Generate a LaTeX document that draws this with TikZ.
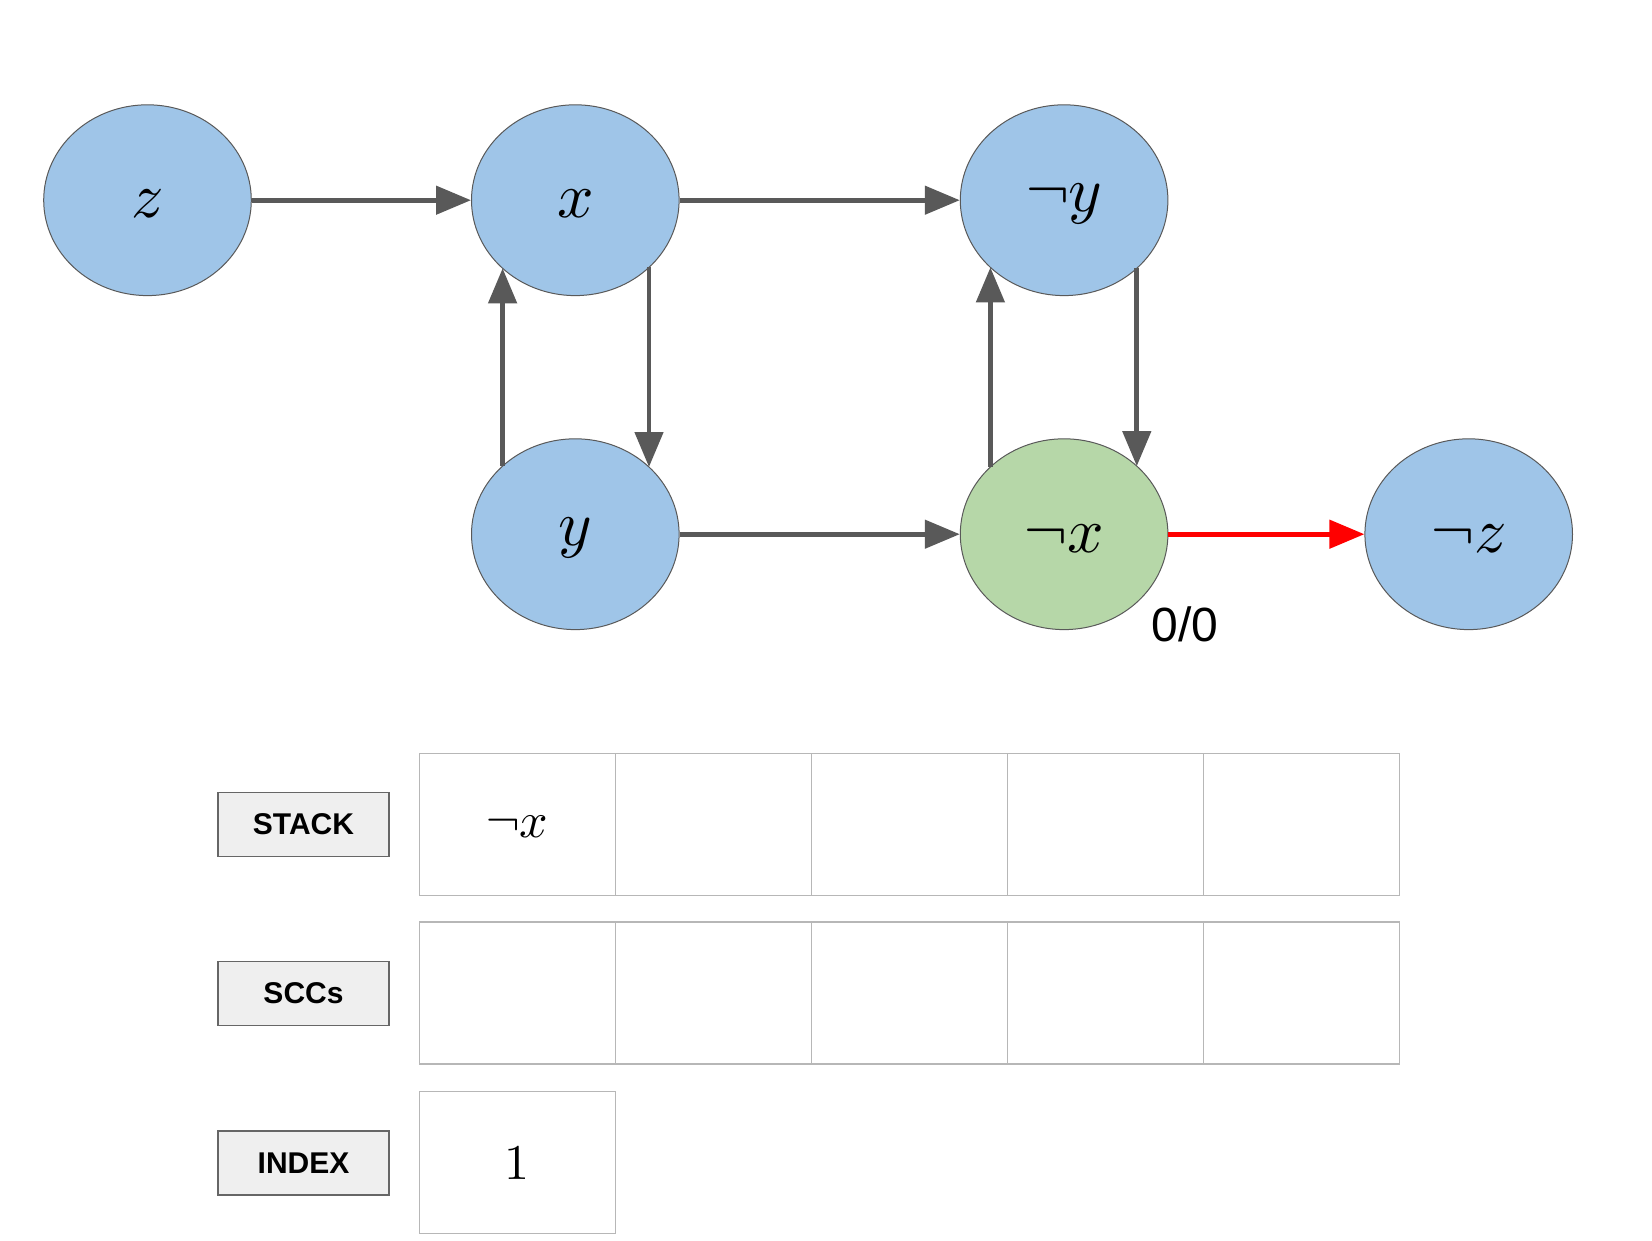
\documentclass[tikz,border=0pt]{standalone}
\usepackage{fontspec}
\usepackage{unicode-math}
\setmathfont{Latin Modern Math}
\newfontfamily\arialfont{Liberation Sans}
\usetikzlibrary{arrows.meta,shapes.geometric,calc}
\definecolor{nodeblue}{HTML}{9FC5E8}
\definecolor{nodegreen}{HTML}{B6D7A8}
\definecolor{edgegray}{HTML}{595959}
\definecolor{cellgray}{HTML}{B7B7B7}
\definecolor{tagfill}{HTML}{EFEFEF}
\definecolor{tagline}{HTML}{666666}
\definecolor{hotred}{HTML}{FF0000}
\tikzset{
  vertex/.style={ellipse, draw=edgegray, line width=1pt, fill=nodeblue,
    minimum width=207.6pt, minimum height=190.8pt, inner sep=0pt,
    font=\fontsize{64}{68}\selectfont},
  current/.style={vertex, fill=nodegreen},
  vlabel/.style={font=\fontsize{64}{68}\selectfont, inner sep=0pt, yshift=-4pt},
  edge/.style={draw=edgegray, line width=4.7pt,
    -{Triangle[length=35pt,width=28pt]}},
  hotedge/.style={edge, draw=hotred, -{Triangle[length=35pt,width=28pt,fill=hotred]}},
  cell/.style={rectangle, draw=cellgray, line width=1.5pt,
    minimum width=196pt, minimum height=142.3pt, inner sep=0pt},
  tag/.style={rectangle, draw=tagline, fill=tagfill, line width=1.5pt,
    minimum width=170.7pt, minimum height=64.3pt, inner sep=0pt,
    font=\arialfont\bfseries\fontsize{30}{32}\selectfont},
}
\begin{document}
\begin{tikzpicture}[x=1pt,y=-1pt]
  \useasboundingbox[fill=white] (0,0) rectangle (1652,1240);

  % implication graph
  \node[vertex]  (z)  at (147.5,200.2)  {};
  \node[vertex]  (x)  at (575.3,200.2)  {};
  \node[vertex]  (ny) at (1064.1,200.2) {};
  \node[vertex]  (y)  at (575.3,534.2)  {};
  \node[current] (nx) at (1064.1,534.2) {};
  \node[vertex]  (nz) at (1468.7,534.2) {};

  \node[vlabel] at (z)  {$z$};
  \node[vlabel] at (x)  {$x$};
  \node[vlabel] at (ny) {$\neg y$};
  \node[vlabel] at (y)  {$y$};
  \node[vlabel] at (nx) {$\neg x$};
  \node[vlabel] at (nz) {$\neg z$};

  \draw[edge] (z) -- (x);
  \draw[edge] (x) -- (ny);
  \draw[edge] (y) -- (nx);
  \draw[hotedge] (nx) -- (nz);

  \draw[edge] ($(y.center)+(-72.7,-68.1)$) -- ($(x.center)+(-72.7,68.1)$);
  \draw[edge] ($(x.center)+(73.7,67.2)$) -- ($(y.center)+(73.7,-67.2)$);
  \draw[edge] ($(nx.center)+(-73.7,-67.2)$) -- ($(ny.center)+(-73.7,67.2)$);
  \draw[edge] ($(ny.center)+(72.7,68.1)$) -- ($(nx.center)+(72.7,-68.1)$);

  \node[font=\arialfont\fontsize{48}{52}\selectfont] (lowlink) at (1185,624) {0/0};

  % bookkeeping rows
  \node[tag] (stacklbl) at (303.5,824.5) {STACK};
  \node[tag] (scclbl)   at (303.5,993.5) {SCCs};
  \node[tag] (indexlbl) at (303.5,1163)  {INDEX};

  \foreach \i in {1,...,5} {
    \node[cell] (s\i) at ({517.3+196*(\i-1)},824.5) {};
    \node[cell] (c\i) at ({517.3+196*(\i-1)},993) {};
  }
  \node[cell] (idx1) at (517.3,1162.5) {};

  \node[font=\fontsize{50}{54}\selectfont, yshift=-2pt] at (s1) {$\neg x$};
  \node[font=\fontsize{50}{54}\selectfont] at (idx1) {$1$};
\end{tikzpicture}
\end{document}
